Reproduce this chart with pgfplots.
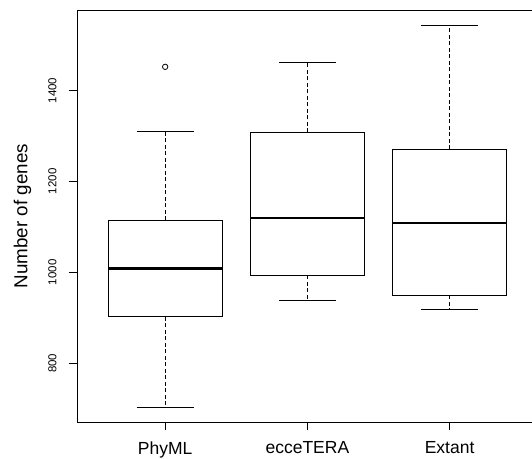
\documentclass[border=0pt]{standalone}
\usepackage{fontspec}
\setmainfont{Liberation Sans}
\usepackage{pgfplots}
\pgfplotsset{compat=1.18}

\pgfplotsset{
  boxline/.style={black, line width=0.9pt, no markers, line join=miter},
  whisk/.style={black, line width=0.8pt, no markers, dash pattern=on 4pt off 2.5pt},
  med/.style={black, line width=2.6pt, no markers},
}

\begin{document}
\begin{tikzpicture}
\begin{axis}[
  scale only axis,
  width=462pt, height=412.3pt,
  xmin=0.38, xmax=3.629,
  ymin=670, ymax=1577,
  axis line style={line width=0.9pt, black},
  tick pos=left,
  tick align=outside,
  major tick length=8pt,
  every tick/.style={black, line width=0.9pt},
  xtick={1,2,3},
  xticklabels={PhyML, ecceTERA, Extant},
  ytick={800,1000,1200,1400},
  yticklabel style={rotate=90, anchor=south, font=\fontsize{11.5}{13}\selectfont},
  yticklabel shift=9pt,
  xticklabel style={font=\fontsize{17.5}{20}\selectfont},
  xticklabel shift=8pt,
  /pgf/number format/assume math mode=true,
  /pgf/number format/1000 sep={},
  ylabel={Number of genes},
  ylabel style={at={(axis description cs:-0.118,0.5)}, anchor=center, font=\fontsize{18.8}{22}\selectfont},
]
% PhyML: whiskers 703/1310, quartiles 902/1115, median 1008, outlier 1452
\addplot[whisk] coordinates {(1,1115) (1,1310)};
\addplot[whisk] coordinates {(1,902) (1,703)};
\addplot[boxline] coordinates {(0.8,1310) (1.2,1310)};
\addplot[boxline] coordinates {(0.8,703) (1.2,703)};
\addplot[boxline] coordinates {(0.6,902) (1.4,902) (1.4,1115) (0.6,1115)} -- cycle;
\addplot[med] coordinates {(0.6,1008) (1.4,1008)};
\addplot[only marks, mark=o, mark size=2.7pt, mark options={black, line width=0.8pt}] coordinates {(1,1452)};
% ecceTERA: whiskers 938/1461, quartiles 993/1308, median 1119
\addplot[whisk] coordinates {(2,1308) (2,1461)};
\addplot[whisk] coordinates {(2,993) (2,938)};
\addplot[boxline] coordinates {(1.8,1461) (2.2,1461)};
\addplot[boxline] coordinates {(1.8,938) (2.2,938)};
\addplot[boxline] coordinates {(1.6,993) (2.4,993) (2.4,1308) (1.6,1308)} -- cycle;
\addplot[med] coordinates {(1.6,1119) (2.4,1119)};
% Extant: whiskers 919/1544, quartiles 949/1271, median 1108
\addplot[whisk] coordinates {(3,1271) (3,1544)};
\addplot[whisk] coordinates {(3,949) (3,919)};
\addplot[boxline] coordinates {(2.8,1544) (3.2,1544)};
\addplot[boxline] coordinates {(2.8,919) (3.2,919)};
\addplot[boxline] coordinates {(2.6,949) (3.4,949) (3.4,1271) (2.6,1271)} -- cycle;
\addplot[med] coordinates {(2.6,1108) (3.4,1108)};
\end{axis}
\pgfresetboundingbox
\path[use as bounding box] (-77pt,-35.7pt) rectangle (455pt,422.3pt);
\end{tikzpicture}
\end{document}
